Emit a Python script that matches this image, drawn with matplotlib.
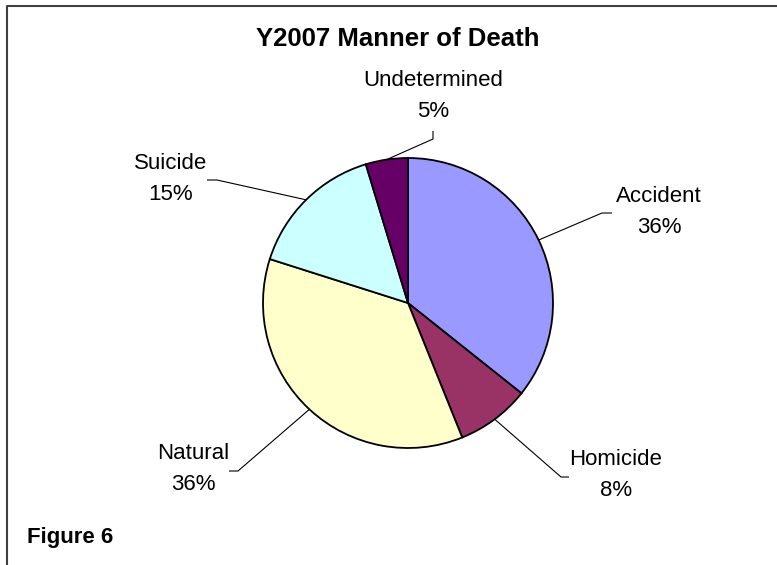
import numpy as np
import matplotlib
matplotlib.use('Agg')
import matplotlib.pyplot as plt

# data
categories = ['Accident', 'Homicide', 'Natural', 'Suicide', 'Undetermined']
shares = [35.7, 8.2, 36.0, 15.4, 4.7]
colors = ['#9999FF', '#993366', '#FFFFCC', '#CCFFFF', '#660066']

W, H = 777, 565
plt.rcParams['font.family'] = ['Liberation Sans', 'DejaVu Sans']

fig = plt.figure(figsize=(W / 100, H / 100), dpi=100)
ax = fig.add_axes([0, 0, 1, 1])

def py(y):
    # pixel row from top -> data y
    return H - y

cx, cy, r = 408, py(303), 145
wedges, _ = ax.pie(shares, colors=colors, startangle=90, counterclock=False,
                   center=(cx, cy), radius=r, frame=True,
                   wedgeprops=dict(edgecolor='black', linewidth=1.3))
ax.set_xlim(0, W)
ax.set_ylim(0, H)
ax.set_aspect('equal')
ax.axis('off')

# label placement (pixels) and leader elbow points
label_pos = [(659, 212), (616, 475), (193, 469), (171, 179), (433, 96)]
elbows = [((602, 213), (612, 213)),
          ((561, 477), (569, 477)),
          ((238, 471), (229, 471)),
          ((217, 180), (207, 180)),
          ((433, 139), (433, 131))]

total = sum(shares)
for w, name, val, (lx, ly), (e1, e2) in zip(wedges, categories, shares, label_pos, elbows):
    mid = np.deg2rad((w.theta1 + w.theta2) / 2)
    ax_ = cx + r * np.cos(mid)
    ay_ = cy + r * np.sin(mid)
    ax.plot([ax_, e1[0], e2[0]], [ay_, py(e1[1]), py(e2[1])],
            color='black', lw=0.8, solid_capstyle='butt')
    ax.text(lx, py(ly), f'{name}\n{val / total * 100:.0f}%', ha='center', va='center',
            fontsize=16, linespacing=1.62)

# title and caption
ax.text(398, py(39), 'Y2007 Manner of Death', ha='center', va='center',
        fontsize=18.5, fontweight='bold')
ax.text(27, py(537), 'Figure 6', ha='left', va='center',
        fontsize=16, fontweight='bold')

# frame (left and top edges)
ax.plot([7, 7, W], [0, py(6), py(6)], color='#404040', lw=1.5)

fig.savefig('out.png', dpi=100)
